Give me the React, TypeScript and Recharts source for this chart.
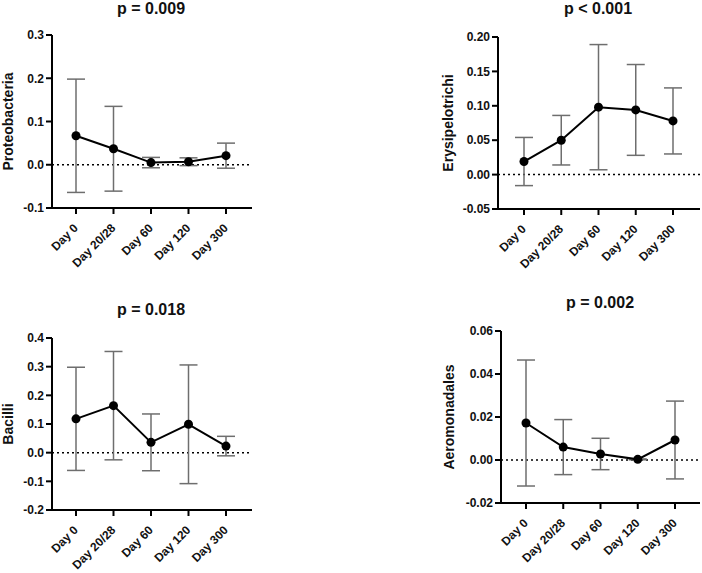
import * as React from "react";
import { LineChart, Line, XAxis, YAxis, ErrorBar, ReferenceLine } from "recharts";

const days = ["Day 0", "Day 20/28", "Day 60", "Day 120", "Day 300"];

const proteoMean = [0.067, 0.037, 0.005, 0.007, 0.021];
const proteoErr = [0.131, 0.098, 0.012, 0.009, 0.029];
const proteoTicks = [-0.1, 0, 0.1, 0.2, 0.3];

const erysMean = [0.019, 0.05, 0.098, 0.094, 0.078];
const erysErr = [0.035, 0.036, 0.091, 0.066, 0.048];
const erysTicks = [-0.05, 0, 0.05, 0.1, 0.15, 0.2];

const bacilliMean = [0.118, 0.164, 0.036, 0.099, 0.023];
const bacilliErr = [0.18, 0.189, 0.099, 0.207, 0.034];
const bacilliTicks = [-0.2, -0.1, 0, 0.1, 0.2, 0.3, 0.4];

const aeroMean = [0.0172, 0.006, 0.0028, 0.0003, 0.0093];
const aeroErr = [0.0293, 0.0128, 0.0073, 0.0002, 0.0181];
const aeroTicks = [-0.02, 0, 0.02, 0.04, 0.06];

const FONT = '"Liberation Sans", Arial, sans-serif';

// rotated day labels, ending just below the tick mark
const DayTick = (props: any) => {
  const { x, y, payload } = props;
  return (
    <g transform={`translate(${x},${y})`}>
      <text
        x={-7}
        y={11}
        textAnchor="end"
        transform="rotate(-45)"
        fontSize={12}
        fontWeight="bold"
        fontFamily={FONT}
        fill="#111"
      >
        {payload.value}
      </text>
    </g>
  );
};

type PanelProps = {
  left: number;
  top: number;
  width: number;
  height: number;
  plot: { l: number; t: number; r: number; b: number };
  pad: [number, number];
  mean: number[];
  err: number[];
  ticks: number[];
  digits: number;
  yLabel: string;
  labelX: number;
  title: string;
  titleX: number;
  titleY: number;
};

function Panel(p: PanelProps) {
  const data = days.map((d, i) => ({ day: d, mean: p.mean[i], err: p.err[i] }));
  const axisStyle = { stroke: "#000", strokeWidth: 2 };
  return (
    <>
      <div
        style={{
          position: "absolute",
          left: p.titleX,
          top: p.titleY,
          transform: "translate(-50%, -50%)",
          fontFamily: FONT,
          fontWeight: "bold",
          fontSize: 16,
          whiteSpace: "nowrap",
          color: "#111",
        }}
      >
        {p.title}
      </div>
      <div style={{ position: "absolute", left: p.left, top: p.top }}>
        <LineChart
          width={p.width}
          height={p.height}
          data={data}
          margin={{ top: p.plot.t, right: p.width - p.plot.r, bottom: 0, left: 0 }}
        >
          <XAxis
            dataKey="day"
            type="category"
            interval={0}
            padding={{ left: p.pad[0], right: p.pad[1] }}
            height={p.height - p.plot.b}
            tick={<DayTick />}
            tickSize={6}
            tickMargin={2}
            axisLine={axisStyle}
            tickLine={axisStyle}
          />
          <YAxis
            type="number"
            domain={[p.ticks[0], p.ticks[p.ticks.length - 1]]}
            ticks={p.ticks}
            interval={0}
            allowDataOverflow
            width={p.plot.l}
            tickSize={6}
            tickMargin={2}
            tickFormatter={(v: number) => v.toFixed(p.digits)}
            tick={{ fontSize: 12, fontWeight: "bold", fontFamily: FONT, fill: "#111" }}
            axisLine={axisStyle}
            tickLine={axisStyle}
            label={(lp: any) => {
              const vb = lp.viewBox;
              const cy = vb.y + vb.height / 2;
              return (
                <text
                  x={p.labelX}
                  y={cy}
                  transform={`rotate(-90, ${p.labelX}, ${cy})`}
                  textAnchor="middle"
                  dominantBaseline="central"
                  fontSize={14}
                  fontWeight="bold"
                  fontFamily={FONT}
                  fill="#111"
                >
                  {p.yLabel}
                </text>
              );
            }}
          />
          <ReferenceLine y={0} stroke="#000" strokeWidth={1.5} strokeDasharray="2 3" />
          <Line
            type="linear"
            dataKey="mean"
            stroke="#000"
            strokeWidth={2}
            dot={{ r: 4.5, fill: "#000", stroke: "#000", strokeWidth: 0 }}
            activeDot={false}
            isAnimationActive={false}
          >
            <ErrorBar
              dataKey="err"
              direction="y"
              width={9}
              stroke="#6e6e6e"
              strokeWidth={1.5}
              isAnimationActive={false}
            />
          </Line>
        </LineChart>
      </div>
    </>
  );
}

export default function App() {
  return (
    <div
      style={{
        position: "absolute",
        left: 0,
        top: 0,
        width: 702,
        height: 573,
        background: "#fff",
        overflow: "hidden",
      }}
    >
      <Panel
        left={0}
        top={0}
        width={300}
        height={270}
        plot={{ l: 52, t: 35, r: 252, b: 208 }}
        pad={[24, 26]}
        mean={proteoMean}
        err={proteoErr}
        ticks={proteoTicks}
        digits={1}
        yLabel="Proteobacteria"
        labelX={8}
        title="p = 0.009"
        titleX={151}
        titleY={9}
      />
      <Panel
        left={360}
        top={0}
        width={342}
        height={270}
        plot={{ l: 138, t: 37, r: 340, b: 209 }}
        pad={[26, 27]}
        mean={erysMean}
        err={erysErr}
        ticks={erysTicks}
        digits={2}
        yLabel="Erysipelotrichi"
        labelX={88}
        title="p < 0.001"
        titleX={598}
        titleY={9}
      />
      <Panel
        left={0}
        top={280}
        width={300}
        height={293}
        plot={{ l: 52, t: 58, r: 252, b: 230 }}
        pad={[24, 26]}
        mean={bacilliMean}
        err={bacilliErr}
        ticks={bacilliTicks}
        digits={1}
        yLabel="Bacilli"
        labelX={8}
        title="p = 0.018"
        titleX={151}
        titleY={310}
      />
      <Panel
        left={360}
        top={280}
        width={342}
        height={293}
        plot={{ l: 141, t: 51, r: 340, b: 223 }}
        pad={[25, 25]}
        mean={aeroMean}
        err={aeroErr}
        ticks={aeroTicks}
        digits={2}
        yLabel="Aeromonadales"
        labelX={89}
        title="p = 0.002"
        titleX={600}
        titleY={303}
      />
    </div>
  );
}
